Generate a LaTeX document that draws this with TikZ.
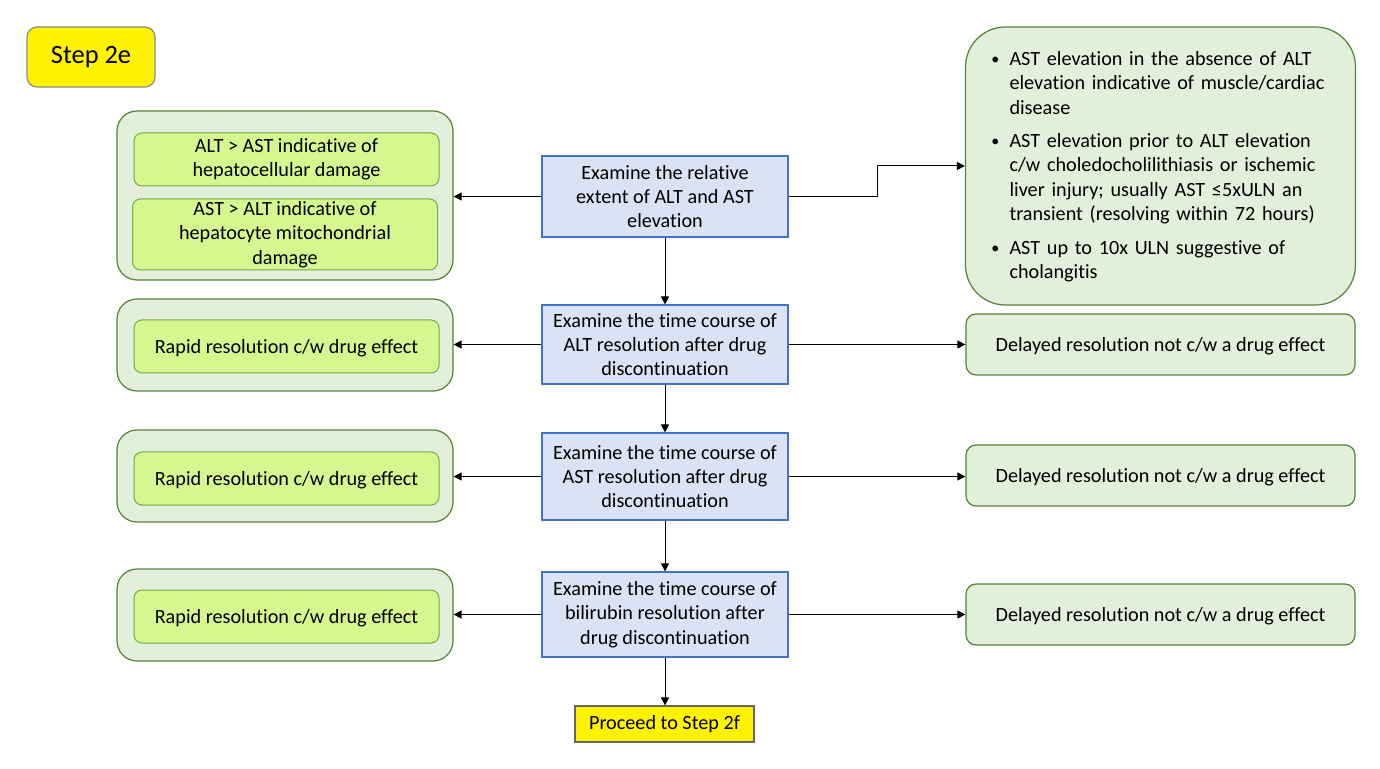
\documentclass[tikz,border=0pt]{standalone}
\usepackage{fontspec}
\setmainfont{Carlito}[Ligatures=NoCommon]
\usepackage{xcolor}
\usepackage{enumitem}
\usetikzlibrary{arrows.meta}

\definecolor{grpfill}{HTML}{E2EFDA}
\definecolor{grpline}{HTML}{538135}
\definecolor{itemfill}{HTML}{D6F68F}
\definecolor{itemline}{HTML}{70AD47}
\definecolor{examfill}{HTML}{DAE3F3}
\definecolor{examline}{HTML}{4472C4}

\begin{document}
\begin{tikzpicture}[x=0.5pt,y=-0.5pt,
  font=\fontsize{10.1}{12.2}\selectfont,
  stepbox/.style={draw=gray!90,fill=yellow,rounded corners=5pt,line width=0.6pt,
    minimum width=64pt,minimum height=30pt,inner sep=0pt,font=\fontsize{13.2}{16}\selectfont},
  grpbox/.style={draw=grpline,fill=grpfill,rounded corners=10pt,line width=0.6pt,inner sep=0pt},
  itembox/.style={draw=itemline,fill=itemfill,rounded corners=4pt,line width=0.5pt,
    minimum width=152.5pt,inner sep=0pt,align=center},
  exambox/.style={draw=examline,fill=examfill,line width=0.6pt,minimum width=123pt,
    inner sep=0pt,align=center},
  sidebox/.style={draw=grpline,fill=grpfill,rounded corners=5pt,line width=0.6pt,
    minimum width=194.5pt,minimum height=30.5pt,inner sep=0pt,text depth=0pt},
  gobox/.style={draw=gray!80!black,fill=yellow,line width=0.6pt,minimum width=89.5pt,
    minimum height=18pt,inner sep=0pt},
  arr/.style={-{Triangle[length=4pt,width=4pt]},line width=0.5pt}]
\useasboundingbox (0,0) rectangle (1380,769);

\node[stepbox](step) at (91,57){Step 2e};

% first row
\node[exambox,minimum height=40.5pt](c1) at (665,196.5){Examine the relative\\extent of ALT and AST\\elevation};
\node[grpbox,minimum width=168pt,minimum height=84.5pt](g1) at (285,195.5){};
\node[itembox,minimum height=26.5pt](i1a) at (286.5,159.5){ALT > AST indicative of\\hepatocellular damage};
\node[itembox,minimum height=35.5pt](i1b) at (285,234.5){AST > ALT indicative of\\hepatocyte mitochondrial\\damage};
\node[grpbox,rounded corners=20pt,minimum width=194.5pt,minimum height=139pt,
  text width=168pt,inner xsep=13.5pt](r1) at (1160.5,166){%
  \vspace*{-4.5pt}
  \begin{itemize}[label=\raisebox{0.5pt}{\scalebox{0.8}{\textbullet}},leftmargin=8.5pt,labelsep=5pt,itemsep=4.5pt,topsep=0pt,parsep=0pt]
  \item AST elevation in the absence of ALT\\elevation indicative of muscle/cardiac\\disease
  \item AST elevation prior to ALT elevation\\c/w choledocholilithiasis or ischemic\\liver injury; usually AST ≤5xULN an\\transient (resolving within 72 hours)
  \item AST up to 10x ULN suggestive of\\cholangitis
  \end{itemize}};

% second row
\node[exambox,minimum height=39.5pt](c2) at (665,344.5){Examine the time course of\\ALT resolution after drug\\discontinuation};
\node[grpbox,minimum width=168pt,minimum height=46pt](g2) at (285,345){};
\node[itembox,minimum height=26.5pt,text depth=0pt](i2) at (286.5,346.5){Rapid resolution c/w drug effect};
\node[sidebox](r2) at (1160.5,344.5){Delayed resolution not c/w a drug effect};

% third row
\node[exambox,minimum height=43.5pt](c3) at (665,476.5){Examine the time course of\\AST resolution after drug\\discontinuation};
\node[grpbox,minimum width=168pt,minimum height=46pt](g3) at (285,476){};
\node[itembox,minimum height=26.5pt,text depth=0pt](i3) at (286.5,478.5){Rapid resolution c/w drug effect};
\node[sidebox](r3) at (1160.5,475.5){Delayed resolution not c/w a drug effect};

% fourth row
\node[exambox,minimum height=42.5pt](c4) at (665,614.5){Examine the time course of\\bilirubin resolution after\\drug discontinuation};
\node[grpbox,minimum width=168pt,minimum height=46pt](g4) at (285,615){};
\node[itembox,minimum height=26.5pt,text depth=0pt](i4) at (286.5,616.5){Rapid resolution c/w drug effect};
\node[sidebox](r4) at (1160.5,614.5){Delayed resolution not c/w a drug effect};

\node[gobox](go) at (664.5,724){Proceed to Step 2f};

% connectors
\draw[arr] (c1.west) -- (c1.west -| g1.east);
\draw[arr] (c1.east) -- ++(89,0) |- (r1.west);
\draw[arr] (c1) -- (c2);
\draw[arr] (c2.west) -- (c2.west -| g2.east);
\draw[arr] (c2.east) -- (c2.east -| r2.west);
\draw[arr] (c2) -- (c3);
\draw[arr] (c3.west) -- (c3.west -| g3.east);
\draw[arr] (c3.east) -- (c3.east -| r3.west);
\draw[arr] (c3) -- (c4);
\draw[arr] (c4.west) -- (c4.west -| g4.east);
\draw[arr] (c4.east) -- (c4.east -| r4.west);
\draw[arr] (c4.south) -- (c4.south |- go.north);
\end{tikzpicture}
\end{document}
